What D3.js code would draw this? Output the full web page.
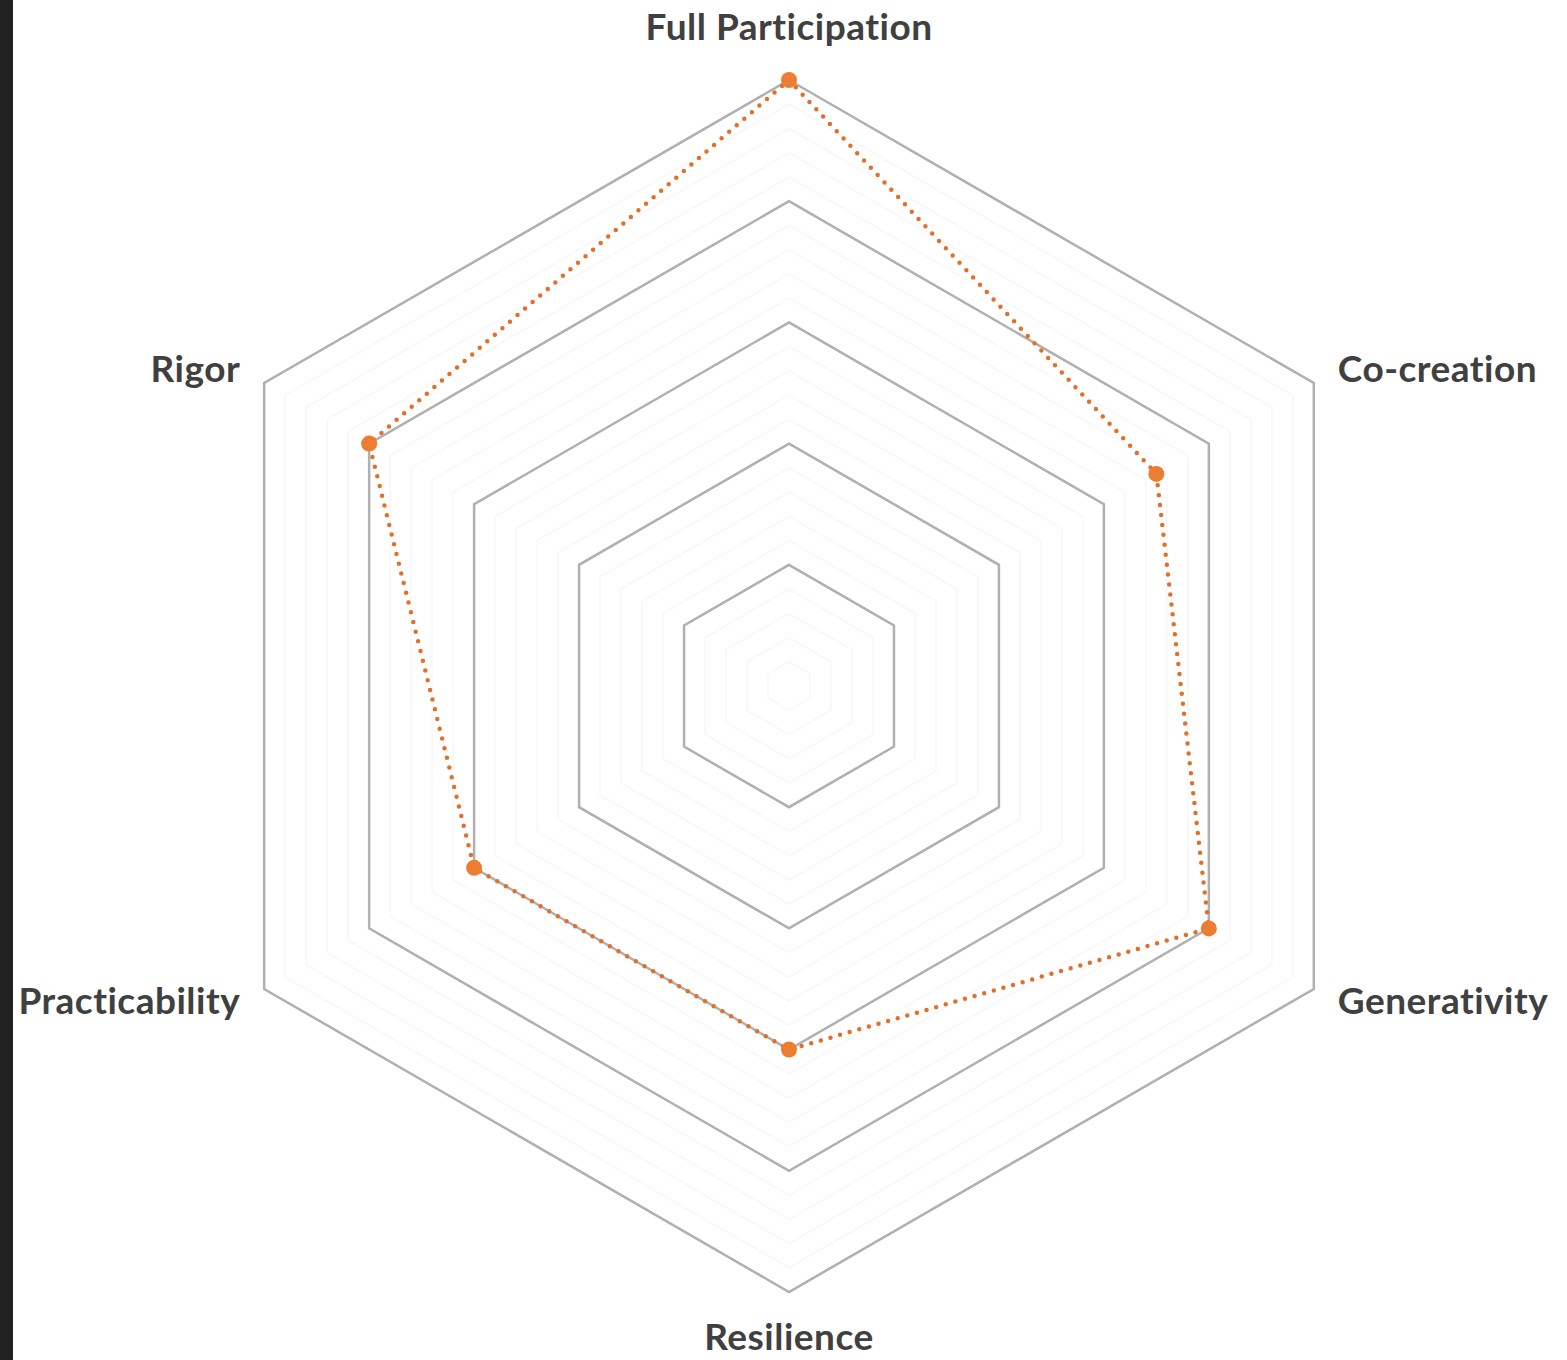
<!DOCTYPE html>
<html>
<head>
<meta charset="utf-8">
<script src="https://cdn.jsdelivr.net/npm/d3@7"></script>
<style>
  html, body { margin: 0; padding: 0; background: #fff; }
  svg { display: block; }
</style>
</head>
<body>
<div id="chart"></div>
<script>
// axes, clockwise from the top
var categories = ["Full Participation", "Co-creation", "Generativity", "Resilience", "Practicability", "Rigor"];
var scores = [5, 3.5, 4, 3, 3, 4];
var majorTicks = [1, 2, 3, 4, 5];
var minorTicks = [0.2, 0.4, 0.6, 0.8, 1.2, 1.4, 1.6, 1.8, 2.2, 2.4, 2.6, 2.8, 3.2, 3.4, 3.6, 3.8, 4.2, 4.4, 4.6, 4.8];

var width = 1567, height = 1360;
var cx = 789, cy = 686, radius = 606;

var svg = d3.select("#chart").append("svg")
	.attr("width", width)
	.attr("height", height);

svg.append("rect").attr("width", width).attr("height", height).attr("fill", "#fff");
// dark strip on the left edge of the screenshot
svg.append("rect").attr("x", 0).attr("y", 0).attr("width", 13).attr("height", height).attr("fill", "#222");

var r = d3.scaleLinear().domain([0, 5]).range([0, radius]);
var angle = d3.scalePoint().domain(categories).range([0, 2 * Math.PI * 5 / 6]);

var body = svg.append("g").attr("transform", "translate(" + cx + "," + cy + ")");

var ring = d3.lineRadial()
	.angle(function(d) { return angle(d.cat); })
	.radius(function(d) { return r(d.v); })
	.curve(d3.curveLinearClosed);

function ringData(v) {
	return categories.map(function(c) { return { cat: c, v: v }; });
}

// faint minor rings
body.selectAll("path.minor")
	.data(minorTicks)
	.enter().append("path")
	.attr("class", "minor")
	.attr("d", function(v) { return ring(ringData(v)); })
	.style("fill", "none")
	.style("stroke", "#f7f7f7")
	.style("stroke-width", "1.5px");

// major rings
body.selectAll("path.major")
	.data(majorTicks)
	.enter().append("path")
	.attr("class", "major")
	.attr("d", function(v) { return ring(ringData(v)); })
	.style("fill", "none")
	.style("stroke", "#b0b0b0")
	.style("stroke-width", "2.5px");

// data series
var series = categories.map(function(c, i) { return { cat: c, v: scores[i] }; });

body.append("path")
	.datum(series)
	.attr("d", ring)
	.style("fill", "none")
	.style("stroke", "#E0702A")
	.style("stroke-width", "4.5px")
	.style("stroke-linecap", "round")
	.style("stroke-dasharray", "0 10");

function pointOf(cat, v) {
	var a = angle(cat);
	return { x: r(v) * Math.sin(a), y: -r(v) * Math.cos(a) };
}

body.selectAll("circle.marker")
	.data(series)
	.enter().append("circle")
	.attr("class", "marker")
	.attr("cx", function(d) { return pointOf(d.cat, d.v).x; })
	.attr("cy", function(d) { return pointOf(d.cat, d.v).y; })
	.attr("r", 8)
	.style("fill", "#ED7D31");

// category labels
body.selectAll("text.label")
	.data(categories)
	.enter().append("text")
	.attr("class", "label")
	.each(function(c) {
		var p = pointOf(c, 5);
		var s = Math.sin(angle(c));
		var el = d3.select(this);
		if (Math.abs(s) < 0.01) {
			var up = p.y < 0;
			el.attr("x", p.x)
				.attr("y", up ? p.y - 53 : p.y + 45)
				.attr("text-anchor", "middle");
		} else {
			var upper = p.y < 0;
			el.attr("x", p.x + (s > 0 ? 24 : -24))
				.attr("y", upper ? p.y - 14 : p.y + 12)
				.attr("text-anchor", s > 0 ? "start" : "end");
		}
	})
	.attr("dy", "0.35em")
	.text(function(c) { return c; })
	.style("font-family", "Lato, 'Open Sans', sans-serif")
	.style("font-weight", "bold")
	.style("font-size", "37px")
	.style("letter-spacing", "0.5px")
	.style("fill", "#404040");
</script>
</body>
</html>
